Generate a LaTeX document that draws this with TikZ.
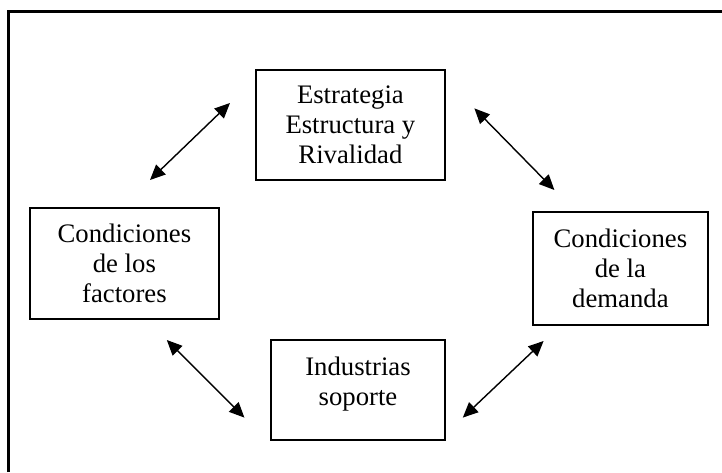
\documentclass[tikz,border=0pt]{standalone}
\usepackage{fontspec}
\setmainfont{Liberation Serif}
\usetikzlibrary{arrows.meta}

\begin{document}
\begin{tikzpicture}[
    caja/.style={draw, line width=1.1pt, align=center, inner sep=0pt,
        font=\fontsize{19pt}{21.5pt}\selectfont},
    flecha/.style={{Triangle[length=3.8mm,width=3.4mm]}-{Triangle[length=3.8mm,width=3.4mm]}, line width=1pt}
]
    \useasboundingbox (0,0) rectangle (18.05,11.8);
    % 外框
    \coordinate (marco-a) at (0.21,0);
    \coordinate (marco-b) at (18.05,11.51);
    \draw[line width=1.6pt] (marco-a) |- (marco-b);

    % 四个方框
    \node[caja, minimum width=4.73cm, minimum height=2.75cm] (est) at (8.76,8.675) {Estrategia\\Estructura y\\Rivalidad};
    \node[caja, minimum width=4.72cm, minimum height=2.78cm] (fac) at (3.11,5.21) {Condiciones\\de los\\factores};
    \node[caja, minimum width=4.375cm, minimum height=2.83cm] (dem) at (15.51,5.09) {Condiciones\\de la\\demanda};
    \node[caja, minimum width=4.35cm, minimum height=2.5cm] (ind) at (8.95,2.05) {};
    \node[font=\fontsize{19pt}{21.5pt}\selectfont, align=center, inner sep=0pt] (ind-t) at (8.95,2.2) {Industrias\\soporte};

    % 双向箭头
    \coordinate (f1) at (3.75,7.3);   \coordinate (e1) at (5.75,9.225);
    \coordinate (e2) at (11.86,9.09); \coordinate (d2) at (13.86,7.05);
    \coordinate (f3) at (4.17,3.3);   \coordinate (i3) at (6.11,1.36);
    \coordinate (i4) at (11.57,1.36); \coordinate (d4) at (13.59,3.275);
    \draw[flecha] (f1) -- (e1);
    \draw[flecha] (e2) -- (d2);
    \draw[flecha] (f3) -- (i3);
    \draw[flecha] (i4) -- (d4);
\end{tikzpicture}
\end{document}
